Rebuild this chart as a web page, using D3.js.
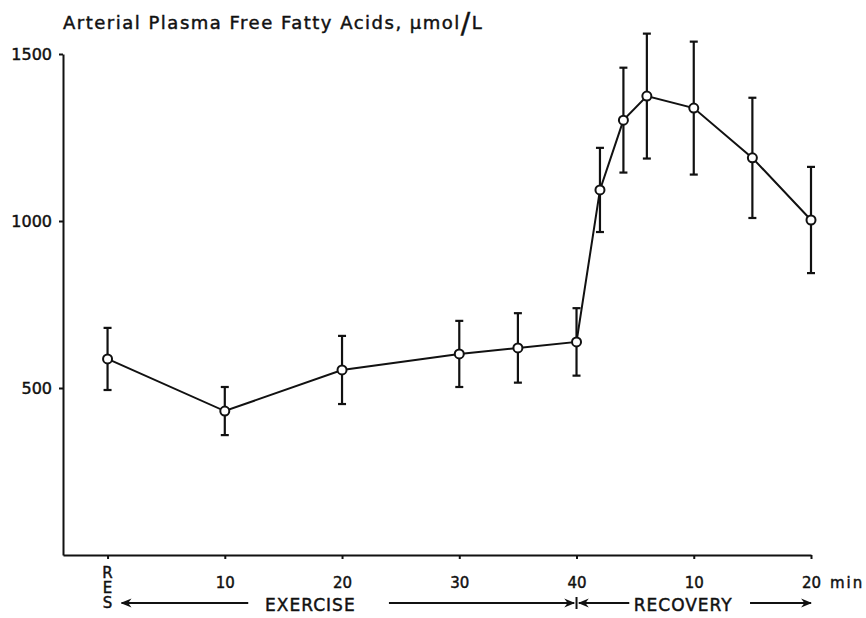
<!DOCTYPE html>
<html>
<head>
<meta charset="utf-8">
<script src="https://cdn.jsdelivr.net/npm/d3@7"></script>
<style>
  body { margin: 0; background: #fff; }
  svg { display: block; }
  text { font-family: "DejaVu Sans", sans-serif; fill: #111; stroke: #111; stroke-width: 0.45px; }
  .axis path, .axis line { stroke: #111; stroke-width: 2; }
</style>
</head>
<body>
<div id="chart"></div>
<script>
// minutes of exercise (RES = rest) and minutes of recovery after 40 min exercise
var exerciseMin = [0, 10, 20, 30, 35, 40];
var recoveryMin = [2, 4, 6, 10, 15, 20];
// arterial plasma FFA, umol/L : mean and error bar half length
var ffaMean = [587, 431, 554, 602, 620, 638, 1093, 1302, 1374, 1338, 1189, 1003];
var ffaErr  = [93, 72, 102, 99, 104, 101, 126, 157, 187, 199, 180, 159];

var yTicks = [500, 1000, 1500];
var xTicks = [0, 10, 20, 30, 40, 50, 60];
var xTickLabels = ["", "10", "20", "30", "40", "10", "20"];

var width = 866, height = 618;

// recovery is put after the 40 min of exercise on the same time line
var data = exerciseMin.map(function(m) { return m; })
  .concat(recoveryMin.map(function(m) { return 40 + m; }))
  .map(function(t, i) { return {t: t, v: ffaMean[i], e: ffaErr[i]}; });

var x = d3.scaleLinear().domain([-3.8, 60]).range([63, 811]);
var y = d3.scaleLinear().domain([0, 1500]).range([555, 54]);

var svg = d3.select("#chart").append("svg")
    .attr("width", width)
    .attr("height", height);

var defs = svg.append("defs");
defs.append("marker")
    .attr("id", "arr")
    .attr("viewBox", "0 0 10 10")
    .attr("refX", 9).attr("refY", 5)
    .attr("markerWidth", 11).attr("markerHeight", 11)
    .attr("markerUnits", "userSpaceOnUse")
    .attr("orient", "auto-start-reverse")
  .append("path")
    .attr("d", "M0,1 L10,5 L0,9 L3,5 Z")
    .attr("fill", "#111");

// axes
var yAxis = d3.axisLeft(y)
    .tickValues(yTicks)
    .tickFormat(d3.format("d"))
    .tickSize(4)
    .tickSizeOuter(0)
    .tickPadding(7);
svg.append("g")
    .attr("class", "y axis")
    .attr("transform", "translate(63,0)")
    .call(yAxis)
    .selectAll("text")
    .style("font-size", "16px")
    .attr("fill", "#111");

var xAxis = d3.axisBottom(x)
    .tickValues(xTicks)
    .tickFormat(function(d, i) { return xTickLabels[i]; })
    .tickSize(4)
    .tickSizeOuter(0)
    .tickPadding(18);
svg.append("g")
    .attr("class", "x axis")
    .attr("transform", "translate(0,555)")
    .call(xAxis)
    .selectAll("text")
    .style("font-size", "15px")
    .attr("fill", "#111");

// RES written downwards under the first tick
svg.append("text")
   .attr("x", x(0))
   .attr("y", 564)
   .style("writing-mode", "vertical-rl")
   .style("text-orientation", "upright")
   .style("font-size", "15px")
   .style("letter-spacing", "-3px")
   .text("RES");

svg.append("text")
   .attr("x", x(60) + 19)
   .attr("y", 588)
   .style("font-size", "15px")
   .style("letter-spacing", "2px")
   .text("min");

// phase arrows
var ay = 603;
svg.append("line")
   .attr("x1", x(12)).attr("y1", ay).attr("x2", x(1.2)).attr("y2", ay)
   .attr("stroke", "#111").attr("stroke-width", 2)
   .attr("marker-end", "url(#arr)");
svg.append("text")
   .attr("x", x(17.3)).attr("y", ay + 8)
   .attr("text-anchor", "middle")
   .style("font-size", "17px")
   .style("letter-spacing", "1px")
   .text("EXERCISE");
svg.append("line")
   .attr("x1", x(24)).attr("y1", ay).attr("x2", x(39.8)).attr("y2", ay)
   .attr("stroke", "#111").attr("stroke-width", 2)
   .attr("marker-end", "url(#arr)");
svg.append("line")
   .attr("x1", x(40)).attr("y1", ay - 6).attr("x2", x(40)).attr("y2", ay + 6)
   .attr("stroke", "#111").attr("stroke-width", 2);
svg.append("line")
   .attr("x1", x(44.5)).attr("y1", ay).attr("x2", x(40.2)).attr("y2", ay)
   .attr("stroke", "#111").attr("stroke-width", 2)
   .attr("marker-end", "url(#arr)");
svg.append("text")
   .attr("x", x(49.1)).attr("y", ay + 8)
   .attr("text-anchor", "middle")
   .style("font-size", "17px")
   .style("letter-spacing", "1px")
   .text("RECOVERY");
svg.append("line")
   .attr("x1", x(54.8)).attr("y1", ay).attr("x2", x(60)).attr("y2", ay)
   .attr("stroke", "#111").attr("stroke-width", 2)
   .attr("marker-end", "url(#arr)");

// title
var title = svg.append("text")
   .attr("x", 63)
   .attr("y", 29)
   .style("font-size", "18px")
   .style("letter-spacing", "1.5px");
title.append("tspan").text("Arterial Plasma Free Fatty Acids, \u03bcmol");
title.append("tspan").style("font-size", "28px").attr("dy", 4).text("/");
title.append("tspan").attr("dy", -4).text("L");

// error bars
var bars = svg.selectAll(".err").data(data).enter()
   .append("g")
   .attr("class", "err")
   .attr("stroke", "#111")
   .attr("stroke-width", 2.2);
bars.append("line")
   .attr("x1", function(d) { return x(d.t); })
   .attr("x2", function(d) { return x(d.t); })
   .attr("y1", function(d) { return y(d.v + d.e); })
   .attr("y2", function(d) { return y(d.v - d.e); });
bars.append("line")
   .attr("x1", function(d) { return x(d.t) - 4; })
   .attr("x2", function(d) { return x(d.t) + 4; })
   .attr("y1", function(d) { return y(d.v + d.e); })
   .attr("y2", function(d) { return y(d.v + d.e); });
bars.append("line")
   .attr("x1", function(d) { return x(d.t) - 4; })
   .attr("x2", function(d) { return x(d.t) + 4; })
   .attr("y1", function(d) { return y(d.v - d.e); })
   .attr("y2", function(d) { return y(d.v - d.e); });

// mean line
var line = d3.line()
   .x(function(d) { return x(d.t); })
   .y(function(d) { return y(d.v); });
svg.append("path")
   .datum(data)
   .attr("d", line)
   .attr("fill", "none")
   .attr("stroke", "#111")
   .attr("stroke-width", 2);

svg.selectAll(".point").data(data).enter()
   .append("circle")
   .attr("class", "point")
   .attr("cx", function(d) { return x(d.t); })
   .attr("cy", function(d) { return y(d.v); })
   .attr("r", 4.5)
   .attr("fill", "#fff")
   .attr("stroke", "#111")
   .attr("stroke-width", 2);
</script>
</body>
</html>
